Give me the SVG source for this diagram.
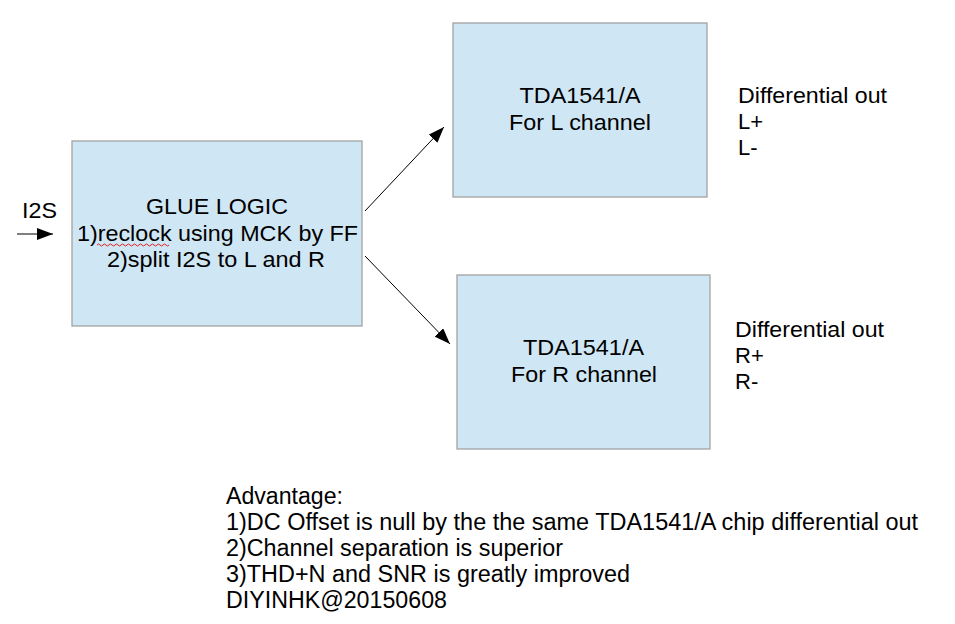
<svg xmlns="http://www.w3.org/2000/svg" width="955" height="624" viewBox="0 0 955 624">
<defs>
<style>
.box{fill:#cfe6f4;stroke:#a3a3a3;stroke-width:1.3}
.t{font-family:"Liberation Sans",Arial,sans-serif;fill:#000}
.c{text-anchor:middle;font-size:22px}
.s{font-size:22px}
.b{font-size:23px}
.con{stroke:#000;stroke-width:1;fill:none}
</style>
<marker id="ah" markerUnits="userSpaceOnUse" markerWidth="18" markerHeight="12" refX="16" refY="6" orient="auto">
<path d="M0,0 L16,6 L0,12 Z" fill="#000"/>
</marker>
</defs>
<rect width="955" height="624" fill="#fff"/>
<g id="connectors">
<line class="con" x1="17" y1="234" x2="53" y2="234" marker-end="url(#ah)"/>
<line class="con" x1="365" y1="211" x2="444" y2="127" marker-end="url(#ah)"/>
<line class="con" x1="365" y1="256" x2="450" y2="344" marker-end="url(#ah)"/>
</g>
<g id="i2s-label">
<text class="t s" x="22" y="218" textLength="35" lengthAdjust="spacingAndGlyphs">I2S</text>
</g>
<g id="glue">
<rect class="box" x="72" y="141" width="290" height="185"/>
<text class="t c" x="217" y="214" textLength="142" lengthAdjust="spacingAndGlyphs">GLUE LOGIC</text>
<text class="t c" x="217.5" y="241" textLength="281" lengthAdjust="spacingAndGlyphs">1)reclock using MCK by FF</text>
<text class="t c" x="216" y="267" textLength="218" lengthAdjust="spacingAndGlyphs">2)split I2S to L and R</text>
<path d="M97,245 q1.5,-2 3,0 t3,0 t3,0 t3,0 t3,0 t3,0 t3,0 t3,0 t3,0 t3,0 t3,0 t3,0 t3,0 t3,0 t3,0 t3,0 t3,0 t3,0 t3,0 t3,0 t3,0 t3,0 t3,0 t3,0" fill="none" stroke="#e02020" stroke-width="1"/>
</g>
<g id="tda-l">
<rect class="box" x="453" y="23" width="254" height="174"/>
<text class="t c" x="580" y="103" textLength="121" lengthAdjust="spacingAndGlyphs">TDA1541/A</text>
<text class="t c" x="580" y="130" textLength="142" lengthAdjust="spacingAndGlyphs">For L channel</text>
</g>
<g id="out-l">
<text class="t s" x="738" y="103" textLength="149" lengthAdjust="spacingAndGlyphs">Differential out</text>
<text class="t s" x="738" y="129">L+</text>
<text class="t s" x="738" y="155">L-</text>
</g>
<g id="tda-r">
<rect class="box" x="457" y="275" width="253" height="174"/>
<text class="t c" x="583.5" y="355" textLength="121" lengthAdjust="spacingAndGlyphs">TDA1541/A</text>
<text class="t c" x="584" y="382" textLength="146" lengthAdjust="spacingAndGlyphs">For R channel</text>
</g>
<g id="out-r">
<text class="t s" x="735" y="337" textLength="149" lengthAdjust="spacingAndGlyphs">Differential out</text>
<text class="t s" x="735" y="363">R+</text>
<text class="t s" x="735" y="389">R-</text>
</g>
<g id="notes">
<text class="t b" x="226" y="504" textLength="117" lengthAdjust="spacingAndGlyphs">Advantage:</text>
<text class="t b" x="226" y="530" textLength="692" lengthAdjust="spacingAndGlyphs">1)DC Offset is null by the the same TDA1541/A chip differential out</text>
<text class="t b" x="226" y="556" textLength="337" lengthAdjust="spacingAndGlyphs">2)Channel separation is superior</text>
<text class="t b" x="226" y="582" textLength="404" lengthAdjust="spacingAndGlyphs">3)THD+N and SNR is greatly improved</text>
<text class="t b" x="226" y="608" textLength="221" lengthAdjust="spacingAndGlyphs">DIYINHK@20150608</text>
</g>
</svg>
